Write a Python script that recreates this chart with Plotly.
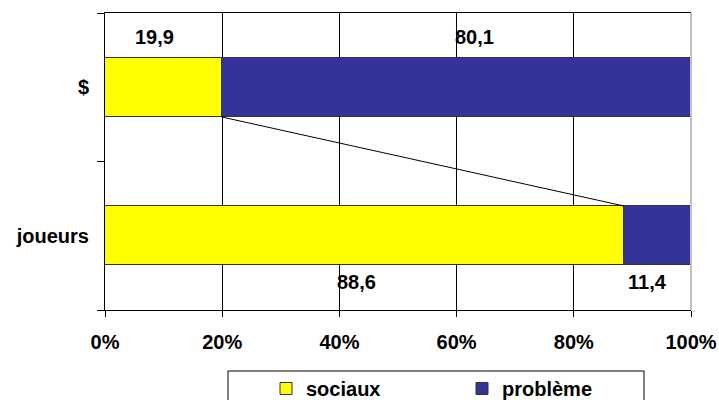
import plotly.graph_objects as go

# Data
categories = ["$", "joueurs"]
sociaux = [19.9, 88.6]
probleme = [80.1, 11.4]
x_ticks = [0, 20, 40, 60, 80, 100]

YELLOW = "#FFFF00"
BLUE = "#333399"
FONT = "Liberation Sans"
FS = 20
BAR_W = 0.4

# horizontal pixel nudges of the value labels (sociaux, problème) per row
LABEL_NUDGE = [(-9, 18), (-8, -10)]

# numeric y positions: first category at the top
ypos = [len(categories) - i - 0.5 for i in range(len(categories))]


def fr(v):
    return f"{v:.1f}".replace(".", ",")


def bold(size=FS):
    return dict(family=FONT, size=size, color="black", weight="bold")


fig = go.Figure()

fig.add_trace(go.Bar(
    name="sociaux", y=ypos, x=sociaux, orientation="h", width=BAR_W,
    marker=dict(color=YELLOW, line=dict(color="#333333", width=1)),
))
fig.add_trace(go.Bar(
    name="problème", y=ypos, x=probleme, orientation="h", width=BAR_W,
    marker=dict(color=BLUE, line=dict(color="#333333", width=1)),
))

# series line joining the ends of the yellow segments
fig.add_trace(go.Scatter(
    x=sociaux, y=[ypos[0] - BAR_W / 2, ypos[1] + BAR_W / 2],
    mode="lines", line=dict(color="black", width=1), showlegend=False,
    hoverinfo="skip",
))

# value labels: above the top bar, below the bottom bar
annotations = []
for i, yp in enumerate(ypos):
    top = i == 0
    edge = yp + BAR_W / 2 if top else yp - BAR_W / 2
    mids = [sociaux[i] / 2, sociaux[i] + probleme[i] / 2]
    vals = [sociaux[i], probleme[i]]
    for j in range(2):
        annotations.append(dict(
            x=mids[j], y=edge, xref="x", yref="y", text=fr(vals[j]),
            showarrow=False, font=bold(), xanchor="center", yanchor="middle",
            xshift=LABEL_NUDGE[i][j], yshift=21 if top else -17,
        ))

fig.update_layout(
    width=719, height=400,
    margin=dict(l=105, r=28, t=13, b=90, autoexpand=False),
    barmode="stack",
    bargap=0,
    plot_bgcolor="white", paper_bgcolor="white",
    font=bold(),
    showlegend=True,
    legend=dict(
        orientation="h", xref="container", yref="container",
        x=266 / 719, y=1 - 369 / 400, xanchor="left", yanchor="top",
        font=bold(),
        bgcolor="rgba(0,0,0,0)", borderwidth=0,
        entrywidth=151, entrywidthmode="pixels",
        traceorder="normal",
    ),
    annotations=annotations,
    xaxis=dict(
        range=[0, 100], tickvals=x_ticks,
        ticktext=[f"{t}%" for t in x_ticks],
        showgrid=True, gridcolor="black", gridwidth=1,
        showline=True, linecolor="black", linewidth=1, mirror=True,
        ticks="outside", ticklen=6, tickcolor="black",
        tickfont=bold(), ticklabelstandoff=8,
        zeroline=False, fixedrange=True, automargin=False,
    ),
    yaxis=dict(
        range=[0, len(categories)], tickvals=ypos, ticktext=categories,
        showgrid=False, zeroline=False,
        showline=True, linecolor="black", linewidth=1,
        ticks="", ticklabelstandoff=11,
        tickfont=bold(),
        minor=dict(tickvals=list(range(len(categories) + 1)), ticks="outside",
                   ticklen=7, tickcolor="black", showgrid=False),
        fixedrange=True, automargin=False,
    ),
    shapes=[
        # legend frame
        dict(type="rect", xref="paper", yref="paper",
             x0=(228 - 105) / 586, x1=(644 - 105) / 586,
             y0=-0.36, y1=(310 - 371) / 297,
             line=dict(color="black", width=1), fillcolor="rgba(0,0,0,0)"),
        # light right border of the plot area
        dict(type="line", xref="paper", yref="paper", x0=1, x1=1, y0=0, y1=1,
             line=dict(color="#c0c0c0", width=2), layer="above"),
    ],
)

fig.write_html("out.html")
